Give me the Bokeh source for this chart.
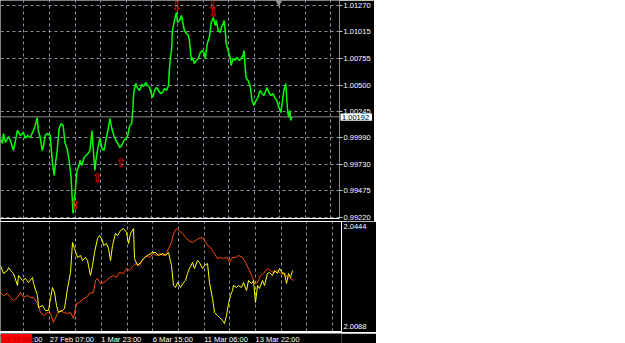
from bokeh.plotting import figure
from bokeh.models import (LinearAxis, FixedTicker, Grid, Range1d, Span)
from bokeh.layouts import column, row
from bokeh.embed import file_html
from bokeh.resources import INLINE
from bokeh.core.properties import value

FONT = "Liberation Sans"
GRID = "#8a96a8"

# ---------------- data ----------------
price_x = [0, 2, 3, 5, 8, 10, 13, 15, 17, 20, 23, 25, 27, 30, 33, 35, 37, 38, 40, 42,
           43, 45, 47, 50, 52, 54, 55, 57, 59, 61, 63, 65, 67, 69, 71, 72, 73, 74, 75, 77,
           79, 80, 82, 84, 86, 88, 90, 92, 93, 95, 96, 98, 100, 102, 104, 106, 108, 110, 112, 114,
           116, 118, 120, 122, 124, 126, 128, 130, 132, 133, 134, 136, 138, 140, 142, 144, 146, 148, 150, 152,
           153, 155, 157, 159, 161, 163, 165, 167, 169, 170, 171, 172, 173, 175, 177, 178, 180, 182, 184, 185,
           187, 189, 190, 192, 193, 195, 197, 199, 201, 203, 205, 206, 208, 210, 211, 212, 214, 216, 217, 219,
           221, 222, 224, 225, 226, 227, 229, 231, 232, 234, 236, 238, 240, 242, 244, 245, 246, 247, 249, 251,
           252, 253, 255, 257, 259, 261, 263, 265, 267, 268, 270, 272, 274, 276, 278, 280, 282, 283, 285, 287,
           288, 289, 290, 291, 292, 293]
price_y = [0.99983, 0.99934, 1.00031, 0.99944, 1.00002, 0.99963, 0.99866, 0.99963, 1.00060, 1.00012,
           1.00041, 0.99983, 1.00012, 0.99992, 1.00060, 1.00108, 1.00186, 1.00060, 0.99992, 0.99866,
           0.99895, 1.00012, 1.00031, 1.00012, 0.99770, 0.99624, 0.99721, 0.99866, 1.00079, 1.00128,
           1.00108, 0.99934, 0.99886, 0.99770, 0.99605, 0.99431, 0.99257, 0.99382, 0.99450, 0.99673,
           0.99721, 0.99770, 0.99721, 0.99799, 0.99818, 0.99837, 0.99866, 1.00060, 0.99915, 0.99673,
           0.99770, 0.99895, 0.99983, 0.99886, 0.99866, 0.99963, 1.00060, 1.00176, 1.00079, 1.00012,
           0.99963, 0.99934, 0.99895, 0.99915, 0.99963, 0.99983, 1.00012, 1.00108, 1.00128, 1.00254,
           1.00428, 1.00515, 1.00467, 1.00447, 1.00505, 1.00486, 1.00525, 1.00495, 1.00476, 1.00409,
           1.00379, 1.00447, 1.00476, 1.00447, 1.00418, 1.00428, 1.00467, 1.00447, 1.00495, 1.00670,
           1.00767, 1.00834, 1.01028, 1.01125, 1.01202, 1.01105, 1.01125, 1.01173, 1.01076, 1.01028,
           1.00999, 1.00980, 1.00931, 1.00738, 1.00767, 1.00709, 1.00738, 1.00757, 1.00815, 1.00834,
           1.00805, 1.00757, 1.00902, 1.00960, 1.01028, 1.01105, 1.01154, 1.01076, 1.01125, 1.01028,
           1.01009, 1.01047, 1.01096, 1.01125, 1.01028, 1.00902, 1.00834, 1.00767, 1.00689, 1.00757,
           1.00738, 1.00767, 1.00738, 1.00757, 1.00786, 1.00834, 1.00689, 1.00573, 1.00544, 1.00495,
           1.00428, 1.00350, 1.00302, 1.00350, 1.00379, 1.00447, 1.00418, 1.00399, 1.00447, 1.00476,
           1.00428, 1.00399, 1.00418, 1.00379, 1.00350, 1.00283, 1.00234, 1.00302, 1.00447, 1.00515,
           1.00350, 1.00234, 1.00186, 1.00254, 1.00157, 1.00192]

last_price = 1.00192
last_price_label = "1.00192"

fractal_down_x = [177, 213, 214]
fractal_down_y = [1.01265, 1.01270, 1.01202]
fractal_up_x = [75, 97, 121]
fractal_up_y = [0.99344, 0.99605, 0.99750]

price_ticks = [1.01270, 1.01015, 1.00755, 1.00500, 1.00245, 0.99990, 0.99730, 0.99475, 0.99220]
price_tick_labels = ["1.01270", "1.01015", "1.00755", "1.00500", "1.00245",
                     "0.99990", "0.99730", "0.99475", "0.99220"]

yellow_x = [0, 3, 7, 8, 10, 13, 17, 18, 22, 25, 28, 32, 33, 37, 38, 42, 45, 48, 50, 52,
            54, 56, 58, 62, 64, 67, 70, 72, 74, 77, 80, 82, 85, 87, 90, 92, 94, 97, 99, 102,
            103, 106, 108, 110, 112, 115, 117, 120, 123, 126, 128, 130, 133, 134, 137, 140, 143, 147, 152, 155,
            158, 162, 165, 168, 171, 173, 175, 177, 180, 183, 185, 187, 189, 192, 194, 197, 199, 202, 204, 207,
            209, 212, 214, 217, 219, 222, 224, 226, 228, 230, 232, 233, 236, 238, 241, 243, 246, 248, 251, 253,
            255, 257, 259, 262, 264, 267, 269, 272, 274, 277, 279, 282, 284, 286, 288, 290, 292]
yellow_y = [2.03048, 2.02766, 2.02871, 2.02977, 2.02871, 2.02766, 2.02343, 2.02695, 2.02519, 2.02589,
            2.02448, 2.02625, 2.02413, 2.01990, 2.01567, 2.01638, 2.01461, 2.01461, 2.01884, 2.02272,
            2.02096, 2.01638, 2.01391, 2.01461, 2.01532, 2.02237, 2.02801, 2.03858, 2.03647, 2.03330,
            2.03400, 2.03224, 2.03330, 2.03224, 2.02695, 2.03048, 2.03506, 2.03999, 2.04105, 2.03929,
            2.03753, 2.03823, 2.03647, 2.03224, 2.03753, 2.04176, 2.04105, 2.04281, 2.04352, 2.04211,
            2.03823, 2.04176, 2.04352, 2.03294, 2.03048, 2.03153, 2.03294, 2.03400, 2.03506, 2.03506,
            2.03400, 2.03471, 2.03400, 2.03506, 2.03048, 2.02343, 2.02272, 2.02448, 2.02272, 2.02448,
            2.02519, 2.02766, 2.02942, 2.03153, 2.02942, 2.03224, 2.03153, 2.02942, 2.03048, 2.03118,
            2.02448, 2.01884, 2.01391, 2.01285, 2.01215, 2.01109, 2.01003, 2.01285, 2.01708, 2.01990,
            2.02166, 2.02343, 2.02272, 2.02343, 2.02272, 2.02448, 2.02166, 2.02519, 2.02413, 2.02519,
            2.01743, 2.02343, 2.02237, 2.02519, 2.02343, 2.02766, 2.02801, 2.02695, 2.02871, 2.02766,
            2.02942, 2.02766, 2.02766, 2.02413, 2.02766, 2.02625, 2.02871]

orange_x = [0, 3, 7, 10, 13, 17, 20, 23, 27, 30, 33, 37, 40, 43, 47, 50, 53, 57, 60, 63,
            67, 70, 73, 76, 79, 83, 86, 89, 93, 95, 97, 100, 103, 106, 109, 113, 116, 119, 123, 126,
            129, 133, 136, 139, 143, 146, 149, 153, 156, 159, 163, 166, 168, 171, 173, 176, 178, 182, 185, 188,
            192, 195, 198, 202, 204, 207, 210, 213, 217, 220, 223, 227, 229, 232, 235, 238, 242, 245, 248, 252,
            254, 257, 260, 263, 267, 270, 273, 277, 280, 283, 287, 290, 293]
orange_y = [2.02096, 2.01990, 2.02061, 2.01920, 2.01814, 2.01920, 2.02096, 2.01920, 2.01990, 2.01920,
            2.01920, 2.01708, 2.01391, 2.01285, 2.01391, 2.01356, 2.01038, 2.01356, 2.01461, 2.01391,
            2.01356, 2.01391, 2.01179, 2.01708, 2.01743, 2.01884, 2.01920, 2.02061, 2.02096, 2.02519,
            2.02589, 2.02413, 2.02448, 2.02519, 2.02625, 2.02695, 2.02625, 2.02801, 2.02766, 2.02942,
            2.02871, 2.03048, 2.03118, 2.03048, 2.03294, 2.03400, 2.03330, 2.03471, 2.03400, 2.03471,
            2.03400, 2.03471, 2.03647, 2.03858, 2.04176, 2.04352, 2.04281, 2.04176, 2.04035, 2.03929,
            2.03858, 2.03929, 2.03999, 2.04035, 2.03929, 2.03753, 2.03682, 2.03506, 2.03294, 2.03330,
            2.03294, 2.03330, 2.03153, 2.03330, 2.03330, 2.03400, 2.03330, 2.03153, 2.02942, 2.02625,
            2.02413, 2.02448, 2.02695, 2.02766, 2.02942, 2.02871, 2.02801, 2.02871, 2.02766, 2.02801,
            2.02625, 2.02589, 2.02519]

ind_ticks = [2.0444, 2.0088]
ind_tick_labels = ["2.0444", "2.0088"]

grid_bars = [23.3, 49.3, 75.0, 100.7, 126.7, 152.3, 178.0, 203.7, 229.3, 255.0, 280.7, 306.3, 332.3]
time_label_bars = [-2.2, 49.3, 100.7, 152.3, 203.7, 255.0]
time_labels = ["24 Feb 15:00", "27 Feb 07:00", "1 Mar 23:00", "6 Mar 15:00", "11 Mar 06:00", "13 Mar 22:00"]
cursor_time_bar = 0.5
cursor_time_label = "22 17:00"
shift_marker_bar = 280

# ---------------- layout constants ----------------
X_RANGE = Range1d(0, 341)
PRICE_LO, PRICE_HI = 0.992082, 1.013184
TOP_FRAME_H = 218
BOX_W, BOX_H = 32, 10
ROW_H = 11

# ---------------- main price panel ----------------
top = figure(width=376, height=221, output_backend="svg", toolbar_location=None,
             x_range=X_RANGE, y_range=Range1d(PRICE_LO, PRICE_HI),
             x_axis_type=None, y_axis_type=None,
             min_border_left=0, min_border_top=0, min_border_right=35, min_border_bottom=3,
             background_fill_color="black", border_fill_color="black", outline_line_color=None)

top.add_layout(Grid(dimension=1, ticker=FixedTicker(ticks=price_ticks),
                    grid_line_color=GRID, grid_line_dash="3 3"))
top.add_layout(Grid(dimension=0, ticker=FixedTicker(ticks=grid_bars),
                    grid_line_color=GRID, grid_line_dash="3 3"))

ry = LinearAxis(ticker=FixedTicker(ticks=price_ticks),
                major_label_overrides={t: s for t, s in zip(price_ticks, price_tick_labels)},
                axis_line_color="#8c8c8c", major_tick_line_color="#c8c8c8",
                major_tick_out=3, major_tick_in=0, minor_tick_line_color=None,
                major_label_text_color="white", major_label_text_font=FONT,
                major_label_text_font_size="7.5px", major_label_standoff=1)
top.add_layout(ry, "right")

bx_top = LinearAxis(ticker=FixedTicker(ticks=[]), axis_line_color="white",
                    major_tick_line_color=None, minor_tick_line_color=None,
                    major_tick_out=0, major_tick_in=0, major_label_standoff=0,
                    major_label_text_font_size="0px")
top.add_layout(bx_top, "below")

top.add_layout(Span(location=last_price, dimension="width", line_color="#8c8c8c", line_width=1))

top.line(price_x, price_y, line_color="#00ff00", line_width=1.5)

top.text(x=fractal_down_x, y=fractal_down_y, text=["\u21e9"] * len(fractal_down_x),
         text_color="#ff0000", text_font=value("DejaVu Sans"), text_font_size="13px",
         text_align="center", text_baseline="middle")
top.text(x=fractal_up_x, y=fractal_up_y, text=["\u21e7"] * len(fractal_up_x),
         text_color="#ff0000", text_font=value("DejaVu Sans"), text_font_size="13px",
         text_align="center", text_baseline="middle")

top.scatter(x=[shift_marker_bar], y=[1.01305], marker="inverted_triangle", size=6,
            fill_color="#9a9a9a", line_color="#9a9a9a")

# last-price box on the price scale (small overlay figure placed over the axis)
box_center_px = (PRICE_HI - last_price) / (PRICE_HI - PRICE_LO) * TOP_FRAME_H
pbox = figure(width=BOX_W, height=BOX_H, output_backend="svg", toolbar_location=None,
              x_range=Range1d(0, BOX_W), y_range=Range1d(0, BOX_H),
              x_axis_type=None, y_axis_type=None, min_border=0,
              background_fill_color="white", border_fill_color="white", outline_line_color=None,
              margin=(int(round(box_center_px - BOX_H / 2)), 0, 0, -34))
pbox.text(x=[1.5], y=[BOX_H / 2], text=[last_price_label], text_color="black",
          text_font=value(FONT), text_font_size="7.5px", text_align="left", text_baseline="middle")

top_row = row(top, pbox, spacing=0)

# ---------------- indicator panel ----------------
bot = figure(width=376, height=111, output_backend="svg", toolbar_location=None,
             x_range=X_RANGE, y_range=Range1d(2.00721, 2.04599),
             x_axis_type=None, y_axis_type=None,
             min_border_left=0, min_border_top=0, min_border_right=35, min_border_bottom=1,
             background_fill_color="black", border_fill_color="black", outline_line_color=None)

bot.add_layout(Grid(dimension=0, ticker=FixedTicker(ticks=grid_bars),
                    grid_line_color=GRID, grid_line_dash="3 3"))

ry2 = LinearAxis(ticker=FixedTicker(ticks=ind_ticks),
                 major_label_overrides={t: s for t, s in zip(ind_ticks, ind_tick_labels)},
                 axis_line_color="white", major_tick_line_color=None,
                 major_tick_out=0, major_tick_in=0, minor_tick_line_color=None,
                 major_label_text_color="white", major_label_text_font=FONT,
                 major_label_text_font_size="7.5px", major_label_standoff=2)
bot.add_layout(ry2, "right")

for side in ("above", "below"):
    ax = LinearAxis(ticker=FixedTicker(ticks=[]), axis_line_color="white",
                    major_tick_line_color=None, minor_tick_line_color=None,
                    major_tick_out=0, major_tick_in=0, major_label_standoff=0,
                    major_label_text_font_size="0px")
    bot.add_layout(ax, side)

bot.line(orange_x, orange_y, line_color="#ff4a00", line_width=1)
bot.line(yellow_x, yellow_y, line_color="#ffff00", line_width=1)

# ---------------- time axis row ----------------
trow = figure(width=376, height=ROW_H, output_backend="svg", toolbar_location=None,
              x_range=X_RANGE, y_range=Range1d(0, ROW_H),
              x_axis_type=None, y_axis_type=None,
              min_border_left=0, min_border_top=0, min_border_right=35, min_border_bottom=0,
              background_fill_color="black", border_fill_color="black", outline_line_color=None)

trow.text(x=time_label_bars, y=[ROW_H / 2 - 0.5] * len(time_labels), text=time_labels,
          text_color="white", text_font=value(FONT), text_font_size="7.5px",
          text_align="left", text_baseline="middle")
trow.text(x=[cursor_time_bar], y=[ROW_H / 2 - 0.5], text=[cursor_time_label],
          text_color="#a00000", text_font=value(FONT), text_font_size="7.5px",
          text_align="left", text_baseline="middle",
          background_fill_color="#ff0000", padding=1)

layout = column(top_row, bot, trow, spacing=0)
open("out.html", "w").write(file_html(layout, INLINE))
